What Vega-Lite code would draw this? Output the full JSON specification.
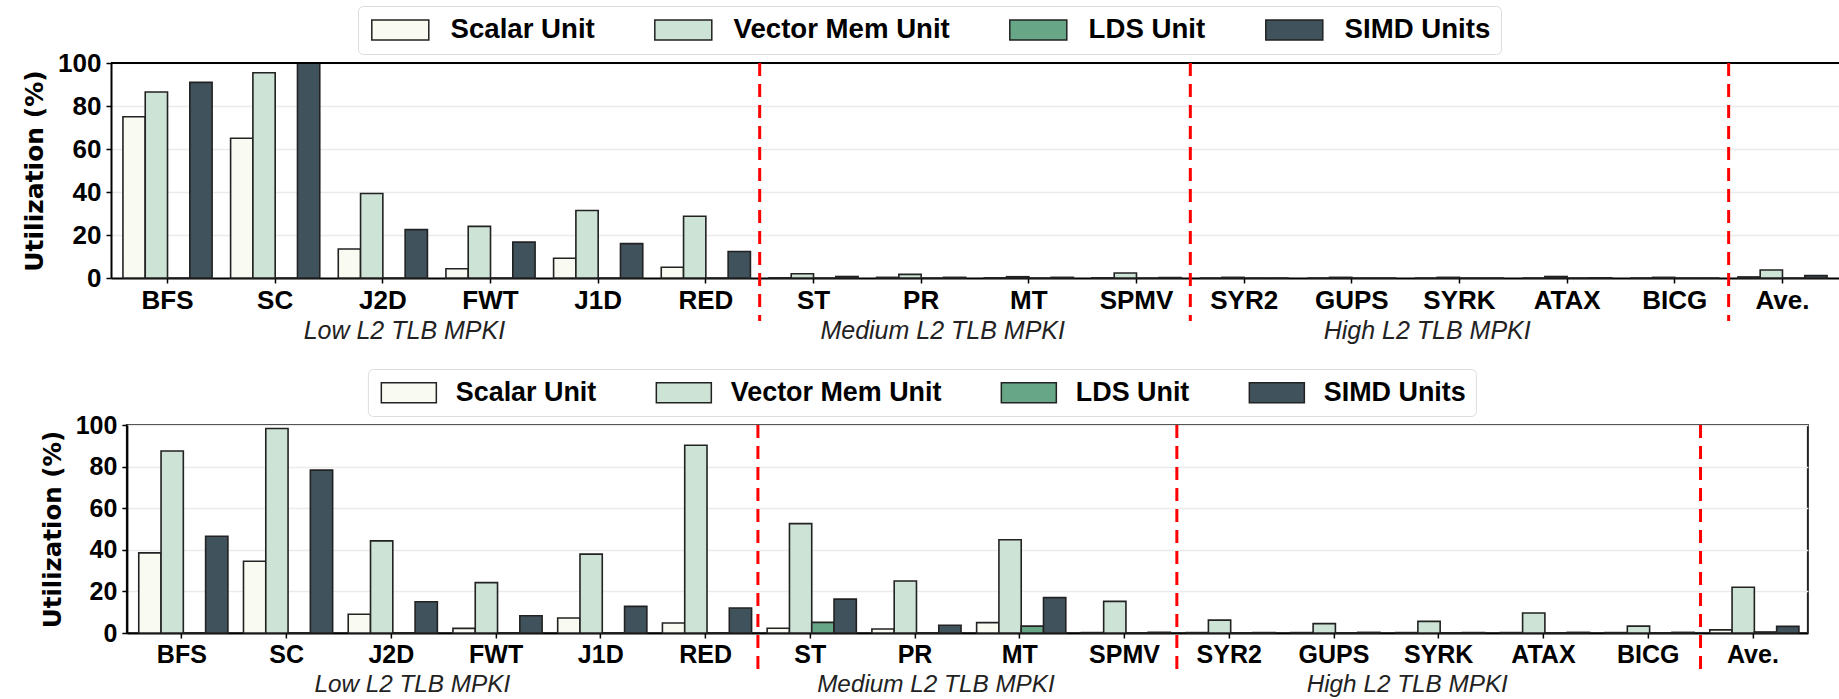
{
  "$schema": "https://vega.github.io/schema/vega-lite/v6.json",
  "background": "white",
  "padding": {"left": 22, "top": 5, "right": 0, "bottom": 0},
  "columns": 1,
  "center": true,
  "spacing": 22,
  "resolve": {"scale": {"color": "independent"}, "legend": {"color": "independent"}},
  "datasets": {
    "top": [
      {"cat": "BFS", "unit": "Scalar Unit", "value": 75}, {"cat": "BFS", "unit": "Vector Mem Unit", "value": 86.5}, {"cat": "BFS", "unit": "LDS Unit", "value": 0}, {"cat": "BFS", "unit": "SIMD Units", "value": 91},
      {"cat": "SC", "unit": "Scalar Unit", "value": 65}, {"cat": "SC", "unit": "Vector Mem Unit", "value": 95.5}, {"cat": "SC", "unit": "LDS Unit", "value": 0}, {"cat": "SC", "unit": "SIMD Units", "value": 100},
      {"cat": "J2D", "unit": "Scalar Unit", "value": 13.5}, {"cat": "J2D", "unit": "Vector Mem Unit", "value": 39.3}, {"cat": "J2D", "unit": "LDS Unit", "value": 0}, {"cat": "J2D", "unit": "SIMD Units", "value": 22.5},
      {"cat": "FWT", "unit": "Scalar Unit", "value": 4.3}, {"cat": "FWT", "unit": "Vector Mem Unit", "value": 24}, {"cat": "FWT", "unit": "LDS Unit", "value": 0}, {"cat": "FWT", "unit": "SIMD Units", "value": 16.7},
      {"cat": "J1D", "unit": "Scalar Unit", "value": 9.2}, {"cat": "J1D", "unit": "Vector Mem Unit", "value": 31.4}, {"cat": "J1D", "unit": "LDS Unit", "value": 0}, {"cat": "J1D", "unit": "SIMD Units", "value": 16},
      {"cat": "RED", "unit": "Scalar Unit", "value": 5}, {"cat": "RED", "unit": "Vector Mem Unit", "value": 28.7}, {"cat": "RED", "unit": "LDS Unit", "value": 0}, {"cat": "RED", "unit": "SIMD Units", "value": 12.3},
      {"cat": "ST", "unit": "Scalar Unit", "value": 0.1}, {"cat": "ST", "unit": "Vector Mem Unit", "value": 2.0}, {"cat": "ST", "unit": "LDS Unit", "value": 0}, {"cat": "ST", "unit": "SIMD Units", "value": 0.7},
      {"cat": "PR", "unit": "Scalar Unit", "value": 0.3}, {"cat": "PR", "unit": "Vector Mem Unit", "value": 1.7}, {"cat": "PR", "unit": "LDS Unit", "value": 0}, {"cat": "PR", "unit": "SIMD Units", "value": 0.3},
      {"cat": "MT", "unit": "Scalar Unit", "value": 0.1}, {"cat": "MT", "unit": "Vector Mem Unit", "value": 0.6}, {"cat": "MT", "unit": "LDS Unit", "value": 0}, {"cat": "MT", "unit": "SIMD Units", "value": 0.3},
      {"cat": "SPMV", "unit": "Scalar Unit", "value": 0.1}, {"cat": "SPMV", "unit": "Vector Mem Unit", "value": 2.3}, {"cat": "SPMV", "unit": "LDS Unit", "value": 0}, {"cat": "SPMV", "unit": "SIMD Units", "value": 0.2},
      {"cat": "SYR2", "unit": "Scalar Unit", "value": 0}, {"cat": "SYR2", "unit": "Vector Mem Unit", "value": 0.3}, {"cat": "SYR2", "unit": "LDS Unit", "value": 0}, {"cat": "SYR2", "unit": "SIMD Units", "value": 0},
      {"cat": "GUPS", "unit": "Scalar Unit", "value": 0}, {"cat": "GUPS", "unit": "Vector Mem Unit", "value": 0.3}, {"cat": "GUPS", "unit": "LDS Unit", "value": 0}, {"cat": "GUPS", "unit": "SIMD Units", "value": 0},
      {"cat": "SYRK", "unit": "Scalar Unit", "value": 0}, {"cat": "SYRK", "unit": "Vector Mem Unit", "value": 0.3}, {"cat": "SYRK", "unit": "LDS Unit", "value": 0}, {"cat": "SYRK", "unit": "SIMD Units", "value": 0},
      {"cat": "ATAX", "unit": "Scalar Unit", "value": 0}, {"cat": "ATAX", "unit": "Vector Mem Unit", "value": 0.7}, {"cat": "ATAX", "unit": "LDS Unit", "value": 0}, {"cat": "ATAX", "unit": "SIMD Units", "value": 0.1},
      {"cat": "BICG", "unit": "Scalar Unit", "value": 0}, {"cat": "BICG", "unit": "Vector Mem Unit", "value": 0.3}, {"cat": "BICG", "unit": "LDS Unit", "value": 0}, {"cat": "BICG", "unit": "SIMD Units", "value": 0},
      {"cat": "Ave.", "unit": "Scalar Unit", "value": 0.5}, {"cat": "Ave.", "unit": "Vector Mem Unit", "value": 3.7}, {"cat": "Ave.", "unit": "LDS Unit", "value": 0}, {"cat": "Ave.", "unit": "SIMD Units", "value": 1.1}
    ],
    "bottom": [
      {"cat": "BFS", "unit": "Scalar Unit", "value": 38.5}, {"cat": "BFS", "unit": "Vector Mem Unit", "value": 87.5}, {"cat": "BFS", "unit": "LDS Unit", "value": 0}, {"cat": "BFS", "unit": "SIMD Units", "value": 46.5},
      {"cat": "SC", "unit": "Scalar Unit", "value": 34.5}, {"cat": "SC", "unit": "Vector Mem Unit", "value": 98.3}, {"cat": "SC", "unit": "LDS Unit", "value": 0}, {"cat": "SC", "unit": "SIMD Units", "value": 78.3},
      {"cat": "J2D", "unit": "Scalar Unit", "value": 9}, {"cat": "J2D", "unit": "Vector Mem Unit", "value": 44.3}, {"cat": "J2D", "unit": "LDS Unit", "value": 0}, {"cat": "J2D", "unit": "SIMD Units", "value": 15},
      {"cat": "FWT", "unit": "Scalar Unit", "value": 2.2}, {"cat": "FWT", "unit": "Vector Mem Unit", "value": 24.2}, {"cat": "FWT", "unit": "LDS Unit", "value": 0}, {"cat": "FWT", "unit": "SIMD Units", "value": 8.3},
      {"cat": "J1D", "unit": "Scalar Unit", "value": 7.2}, {"cat": "J1D", "unit": "Vector Mem Unit", "value": 37.9}, {"cat": "J1D", "unit": "LDS Unit", "value": 0}, {"cat": "J1D", "unit": "SIMD Units", "value": 12.8},
      {"cat": "RED", "unit": "Scalar Unit", "value": 4.8}, {"cat": "RED", "unit": "Vector Mem Unit", "value": 90.3}, {"cat": "RED", "unit": "LDS Unit", "value": 0}, {"cat": "RED", "unit": "SIMD Units", "value": 12},
      {"cat": "ST", "unit": "Scalar Unit", "value": 2.3}, {"cat": "ST", "unit": "Vector Mem Unit", "value": 52.6}, {"cat": "ST", "unit": "LDS Unit", "value": 5.1}, {"cat": "ST", "unit": "SIMD Units", "value": 16.3},
      {"cat": "PR", "unit": "Scalar Unit", "value": 1.9}, {"cat": "PR", "unit": "Vector Mem Unit", "value": 25}, {"cat": "PR", "unit": "LDS Unit", "value": 0}, {"cat": "PR", "unit": "SIMD Units", "value": 3.7},
      {"cat": "MT", "unit": "Scalar Unit", "value": 5}, {"cat": "MT", "unit": "Vector Mem Unit", "value": 44.8}, {"cat": "MT", "unit": "LDS Unit", "value": 3.3}, {"cat": "MT", "unit": "SIMD Units", "value": 17},
      {"cat": "SPMV", "unit": "Scalar Unit", "value": 0.2}, {"cat": "SPMV", "unit": "Vector Mem Unit", "value": 15.2}, {"cat": "SPMV", "unit": "LDS Unit", "value": 0}, {"cat": "SPMV", "unit": "SIMD Units", "value": 0.3},
      {"cat": "SYR2", "unit": "Scalar Unit", "value": 0.2}, {"cat": "SYR2", "unit": "Vector Mem Unit", "value": 6.2}, {"cat": "SYR2", "unit": "LDS Unit", "value": 0}, {"cat": "SYR2", "unit": "SIMD Units", "value": 0.2},
      {"cat": "GUPS", "unit": "Scalar Unit", "value": 0.2}, {"cat": "GUPS", "unit": "Vector Mem Unit", "value": 4.5}, {"cat": "GUPS", "unit": "LDS Unit", "value": 0}, {"cat": "GUPS", "unit": "SIMD Units", "value": 0.3},
      {"cat": "SYRK", "unit": "Scalar Unit", "value": 0.2}, {"cat": "SYRK", "unit": "Vector Mem Unit", "value": 5.6}, {"cat": "SYRK", "unit": "LDS Unit", "value": 0}, {"cat": "SYRK", "unit": "SIMD Units", "value": 0.2},
      {"cat": "ATAX", "unit": "Scalar Unit", "value": 0.2}, {"cat": "ATAX", "unit": "Vector Mem Unit", "value": 9.6}, {"cat": "ATAX", "unit": "LDS Unit", "value": 0}, {"cat": "ATAX", "unit": "SIMD Units", "value": 0.3},
      {"cat": "BICG", "unit": "Scalar Unit", "value": 0.2}, {"cat": "BICG", "unit": "Vector Mem Unit", "value": 3.3}, {"cat": "BICG", "unit": "LDS Unit", "value": 0}, {"cat": "BICG", "unit": "SIMD Units", "value": 0.3},
      {"cat": "Ave.", "unit": "Scalar Unit", "value": 1.5}, {"cat": "Ave.", "unit": "Vector Mem Unit", "value": 22}, {"cat": "Ave.", "unit": "LDS Unit", "value": 0.5}, {"cat": "Ave.", "unit": "SIMD Units", "value": 3.2}
    ],
    "dividers": [{"cat": "ST"}, {"cat": "SYR2"}, {"cat": "Ave."}],
    "groupsA": [{"cat": "J2D", "label": "Low L2 TLB MPKI"}, {"cat": "PR", "label": "Medium L2 TLB MPKI"}],
    "groupsB": [{"cat": "SYRK", "label": "High L2 TLB MPKI"}],
    "frame": [{"edge": "top"}]
  },
  "concat": [
    {
      "width": 1728,
      "height": 215,
      "view": {"stroke": null},
      "layer": [
        {
          "data": {"name": "top"},
          "mark": {"type": "bar", "stroke": "#222222", "strokeWidth": 1.6},
          "encoding": {
            "x": {"field": "cat", "type": "nominal",
              "scale": {"domain": ["BFS","SC","J2D","FWT","J1D","RED","ST","PR","MT","SPMV","SYR2","GUPS","SYRK","ATAX","BICG","Ave."], "paddingInner": 0, "paddingOuter": 0.025},
              "axis": {"title": null, "labelAngle": 0, "labelFont": "Liberation Sans", "labelFontWeight": "bold", "labelFontSize": 26, "labelColor": "#000000", "labelPadding": 4, "tickSize": 5, "tickColor": "#000000", "tickWidth": 1.5, "domainColor": "#000000", "domainWidth": 2, "grid": false}},
            "xOffset": {"field": "unit", "type": "nominal", "scale": {"domain": ["Scalar Unit","Vector Mem Unit","LDS Unit","SIMD Units"], "paddingInner": 0, "paddingOuter": 0.415}},
            "y": {"field": "value", "type": "quantitative", "scale": {"domain": [0, 100], "nice": false},
              "axis": {"title": "Utilization (%)", "values": [0,20,40,60,80,100], "labelFont": "Liberation Sans", "labelFontWeight": "bold", "labelFontSize": 26, "labelColor": "#000000", "labelPadding": 5, "tickSize": 5, "tickColor": "#000000", "tickWidth": 1.5, "domainColor": "#000000", "domainWidth": 2, "grid": true, "gridColor": "#ebebeb", "gridWidth": 1.5, "titleFont": "DejaVu Sans", "titleFontWeight": "bold", "titleFontSize": 25, "titleColor": "#000000", "titlePadding": 10}},
            "color": {"field": "unit", "type": "nominal",
              "scale": {"domain": ["Scalar Unit","Vector Mem Unit","LDS Unit","SIMD Units"], "range": ["#f9fbf2","#cce3d6","#67a686","#40525c"]},
              "legend": {"orient": "none", "legendX": 247, "legendY": -57, "direction": "horizontal", "columns": 4, "title": null, "symbolType": "M-1,-1H4.7V1H-1Z", "symbolSize": 400, "symbolStrokeColor": "#222222", "symbolStrokeWidth": 1.5, "symbolOpacity": 1, "labelFont": "Liberation Sans", "labelFontWeight": "bold", "labelFontSize": 27.6, "labelColor": "#000000", "labelOffset": 55, "labelLimit": 400, "columnPadding": 56, "padding": 10, "strokeColor": "#dddddd", "fillColor": "#ffffff", "cornerRadius": 5}}
          }
        },
        {
          "data": {"name": "frame"},
          "mark": {"type": "rule", "color": "#000000", "strokeWidth": 2},
          "encoding": {"y": {"datum": 100, "type": "quantitative", "scale": {"domain": [0, 100]}}}
        },
        {
          "data": {"name": "dividers"},
          "mark": {"type": "rule", "color": "#ff0000", "strokeWidth": 3, "strokeDash": [13, 8]},
          "encoding": {
            "x": {"field": "cat", "type": "nominal", "bandPosition": 0},
            "y": {"datum": 100, "type": "quantitative", "scale": {"domain": [0, 100]}},
            "y2": {"datum": -20}
          }
        },
        {
          "data": {"name": "groupsA"},
          "mark": {"type": "text", "font": "Liberation Sans", "fontStyle": "italic", "fontSize": 25, "baseline": "alphabetic", "align": "center", "color": "#222222"},
          "encoding": {
            "x": {"field": "cat", "type": "nominal", "bandPosition": 0.7},
            "y": {"datum": -28.4, "type": "quantitative", "scale": {"domain": [0, 100]}},
            "text": {"field": "label"}
          }
        },
        {
          "data": {"name": "groupsB"},
          "mark": {"type": "text", "font": "Liberation Sans", "fontStyle": "italic", "fontSize": 25, "baseline": "alphabetic", "align": "center", "color": "#222222"},
          "encoding": {
            "x": {"field": "cat", "type": "nominal", "bandPosition": 0.2},
            "y": {"datum": -28.4, "type": "quantitative", "scale": {"domain": [0, 100]}},
            "text": {"field": "label"}
          }
        }
      ]
    },
    {
      "spacing": 9,
      "resolve": {"scale": {"color": "independent"}, "legend": {"color": "independent"}},
      "hconcat": [
        {
          "width": 1681,
          "height": 208,
          "view": {"stroke": "#222222", "strokeWidth": 2},
          "layer": [
            {
              "data": {"name": "bottom"},
              "mark": {"type": "bar", "stroke": "#222222", "strokeWidth": 1.6},
              "encoding": {
                "x": {"field": "cat", "type": "nominal",
                  "scale": {"domain": ["BFS","SC","J2D","FWT","J1D","RED","ST","PR","MT","SPMV","SYR2","GUPS","SYRK","ATAX","BICG","Ave."], "paddingInner": 0, "paddingOuter": 0.025},
                  "axis": {"title": null, "labelAngle": 0, "labelFont": "Liberation Sans", "labelFontWeight": "bold", "labelFontSize": 25, "labelColor": "#000000", "labelPadding": 4, "tickSize": 5, "tickColor": "#000000", "tickWidth": 1.5, "domainColor": "#000000", "domainWidth": 2, "grid": false}},
                "xOffset": {"field": "unit", "type": "nominal", "scale": {"domain": ["Scalar Unit","Vector Mem Unit","LDS Unit","SIMD Units"], "paddingInner": 0, "paddingOuter": 0.38}},
                "y": {"field": "value", "type": "quantitative", "scale": {"domain": [0, 100], "nice": false},
                  "axis": {"title": "Utilization (%)", "values": [0,20,40,60,80,100], "labelFont": "Liberation Sans", "labelFontWeight": "bold", "labelFontSize": 25, "labelColor": "#000000", "labelPadding": 5, "tickSize": 5, "tickColor": "#000000", "tickWidth": 1.5, "domainColor": "#000000", "domainWidth": 2, "grid": true, "gridColor": "#ebebeb", "gridWidth": 1.5, "titleFont": "DejaVu Sans", "titleFontWeight": "bold", "titleFontSize": 24.5, "titleColor": "#000000", "titlePadding": 10}},
                "color": {"field": "unit", "type": "nominal",
                  "scale": {"domain": ["Scalar Unit","Vector Mem Unit","LDS Unit","SIMD Units"], "range": ["#f9fbf2","#cce3d6","#67a686","#40525c"]},
                  "legend": {"orient": "none", "legendX": 241, "legendY": -56, "direction": "horizontal", "columns": 4, "title": null, "symbolType": "M-1,-1H4.5V1H-1Z", "symbolSize": 400, "symbolStrokeColor": "#222222", "symbolStrokeWidth": 1.5, "symbolOpacity": 1, "labelFont": "Liberation Sans", "labelFontWeight": "bold", "labelFontSize": 26.9, "labelColor": "#000000", "labelOffset": 51, "labelLimit": 400, "columnPadding": 56, "padding": 10, "strokeColor": "#dddddd", "fillColor": "#ffffff", "cornerRadius": 5}}
              }
            },
            {
              "data": {"name": "dividers"},
              "mark": {"type": "rule", "color": "#ff0000", "strokeWidth": 3, "strokeDash": [13, 8]},
              "encoding": {
                "x": {"field": "cat", "type": "nominal", "bandPosition": 0},
                "y": {"datum": 100, "type": "quantitative", "scale": {"domain": [0, 100]}},
                "y2": {"datum": -19.3}
              }
            },
            {
              "data": {"name": "groupsA"},
              "mark": {"type": "text", "font": "Liberation Sans", "fontStyle": "italic", "fontSize": 24.3, "baseline": "alphabetic", "align": "center", "color": "#222222"},
              "encoding": {
                "x": {"field": "cat", "type": "nominal", "bandPosition": 0.7},
                "y": {"datum": -28.4, "type": "quantitative", "scale": {"domain": [0, 100]}},
                "text": {"field": "label"}
              }
            },
            {
              "data": {"name": "groupsB"},
              "mark": {"type": "text", "font": "Liberation Sans", "fontStyle": "italic", "fontSize": 24.3, "baseline": "alphabetic", "align": "center", "color": "#222222"},
              "encoding": {
                "x": {"field": "cat", "type": "nominal", "bandPosition": 0.2},
                "y": {"datum": -28.4, "type": "quantitative", "scale": {"domain": [0, 100]}},
                "text": {"field": "label"}
              }
            }
          ]
        },
        {
          "width": 1,
          "height": 10,
          "view": {"stroke": null},
          "data": {"name": "frame"},
          "mark": {"type": "point", "opacity": 0},
          "encoding": {}
        }
      ]
    }
  ]
}
